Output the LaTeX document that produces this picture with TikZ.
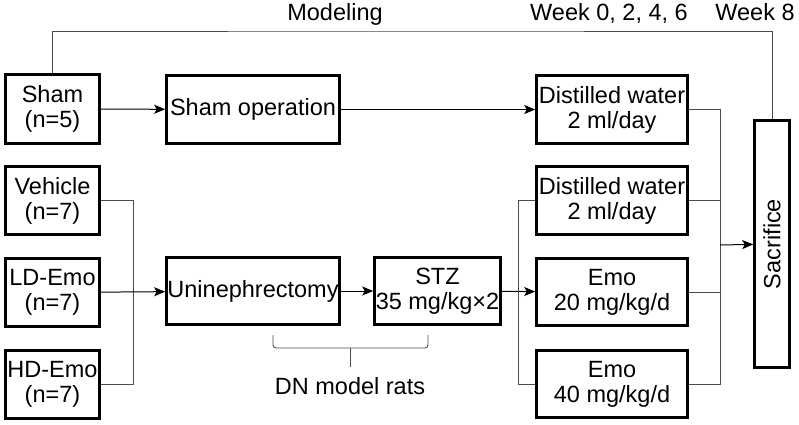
\documentclass[tikz,border=0pt]{standalone}
\usepackage{fontspec}
\setmainfont{Liberation Sans}
\usepackage{tikz}
\usetikzlibrary{arrows.meta,positioning,calc}

\begin{document}
\begin{tikzpicture}[x=1pt, y=-1pt,
    box/.style={draw, line width=2.6pt, align=center, inner sep=0pt, font=\fontsize{23.5}{25}\selectfont},
    lbl/.style={font=\fontsize{23.5}{25}\selectfont, inner sep=0pt, anchor=base},
    conn/.style={draw=black!70, line width=0.9pt},
    arr/.style={draw=black, line width=1pt, -{Stealth[length=11pt, width=9pt, inset=2.5pt]}}]
    \useasboundingbox (0,0) rectangle (799,424);
    \node[lbl] (modeling) at (335,20) {Modeling};
    \node[lbl] (weeks) at (609,20) {Week 0, 2, 4, 6};
    \node[lbl] (week8) at (755,20) {Week 8};
    \node[box, minimum width=94, minimum height=69] (sham) at (52.5,109) {Sham\\(n=5)};
    \node[box, minimum width=173, minimum height=68] (shamop) at (253,109.5) {Sham operation};
    \node[box, minimum width=151, minimum height=68] (dwa) at (612,109.5) {Distilled water\\2 ml/day};
    \node[box, minimum width=94, minimum height=68] (veh) at (52.5,200.5) {Vehicle\\(n=7)};
    \node[box, minimum width=94, minimum height=68] (ld) at (52.5,292.5) {LD-Emo\\(n=7)};
    \node[box, minimum width=94, minimum height=68] (hd) at (52.5,384.5) {HD-Emo\\(n=7)};
    \node[box, minimum width=173, minimum height=67] (unine) at (253,291) {Uninephrectomy};
    \node[box, minimum width=126, minimum height=67] (stz) at (437.5,291) {STZ\\35 mg/kg×2};
    \node[box, minimum width=151, minimum height=68] (dwb) at (612,200.5) {Distilled water\\2 ml/day};
    \node[box, minimum width=151, minimum height=67] (emoa) at (612,292) {Emo\\20 mg/kg/d};
    \node[box, minimum width=151, minimum height=67] (emob) at (612,384) {Emo\\40 mg/kg/d};
    \node[box, minimum width=35, minimum height=247] (sac) at (772,244) {\rotatebox{90}{Sacrifice}};
    \node[lbl] (dnrats) at (350,394) {DN model rats};
    \coordinate (top) at (400,31);
    \coordinate (lj) at (133,292.5);
    \coordinate (rj) at (518,291);
    \coordinate (sj) at (720,245);
    \draw[conn] (sham.north) |- (top) -| (sac.north);
    \draw[arr] (sham) -- (shamop);
    \draw[arr] (shamop) -- (dwa);
    \draw[conn] (veh.east) -| (lj);
    \draw[conn] (hd.east) -| (lj);
    \draw[arr] (ld) -- (unine);
    \draw[arr] (unine) -- (stz);
    \draw[arr] (stz) -- (emoa);
    \draw[conn] (dwb.west) -| (rj);
    \draw[conn] (emob.west) -| (rj);
    \draw[conn] (dwa.east) -| (sj);
    \draw[conn] (dwb.east) -| (sj);
    \draw[conn] (emoa.east) -| (sj);
    \draw[conn] (emob.east) -| (sj);
    \draw[arr] (sj) -- (sac);
    \draw[conn, rounded corners=3pt] (273,335) -- (273,348) -- (428,348) -- (428,335);
    \draw[conn] (350,348) -- (350,367);
\end{tikzpicture}
\end{document}
